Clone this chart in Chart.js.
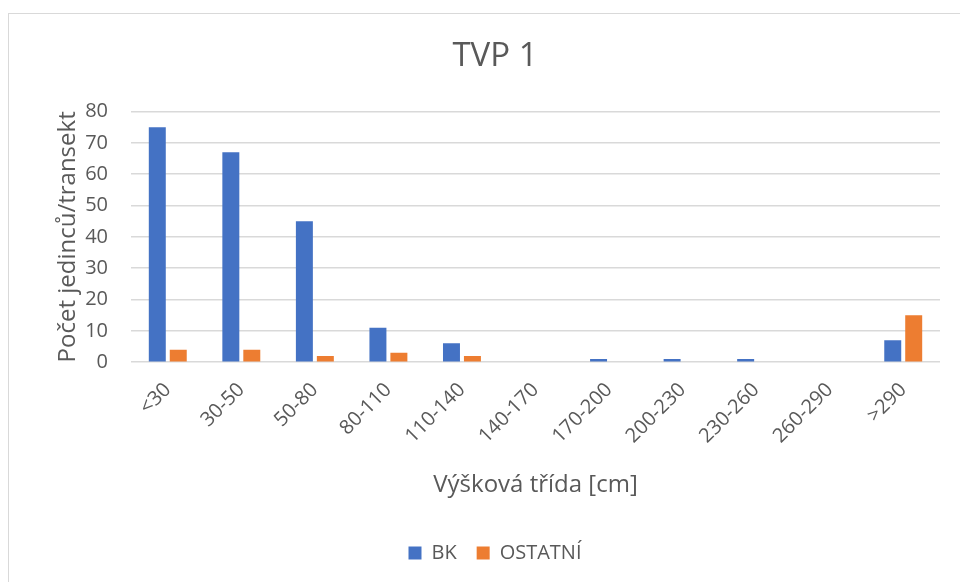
<!DOCTYPE html>
<html>
<head>
<meta charset="utf-8">
<script src="https://cdn.jsdelivr.net/npm/chart.js"></script>
<style>
  body { margin: 0; background: #fff; }
  #wrap { position: absolute; left: 0; top: 0; width: 960px; height: 582px; }
  #frame { position: absolute; left: 8px; top: 13px; width: 960px; height: 580px; border: 1px solid #d9d9d9; box-sizing: border-box; }
</style>
</head>
<body>
<div id="frame"></div>
<div id="wrap"><canvas id="graf"></canvas></div>
<script>
// kategorie výškových tříd
const tridy = ['<30', '30-50', '50-80', '80-110', '110-140', '140-170', '170-200', '200-230', '230-260', '260-290', '>290'];
const bk = [75, 67, 45, 11, 6, 0, 1, 1, 1, 0, 7];
const ostatni = [4, 4, 2, 3, 2, 0, 0, 0, 0, 0, 15];

const sedy = '#595959';
const pismo = "'Open Sans', 'Liberation Sans', sans-serif";

const ctx = document.getElementById('graf').getContext('2d');
new Chart(ctx, {
    type: 'bar',
    data: {
        labels: tridy,
        datasets: [
            { label: 'BK', data: bk, backgroundColor: '#4472C4' },
            { label: 'OSTATNÍ', data: ostatni, backgroundColor: '#ED7D31' }
        ]
    },
    options: {
        responsive: true,
        maintainAspectRatio: false,
        animation: false,
        categoryPercentage: 0.57,
        barPercentage: 0.81,
        layout: { padding: { top: 37, left: 50, right: 20, bottom: 9 } },
        plugins: {
            title: {
                display: true,
                text: 'TVP 1',
                color: sedy,
                font: { family: pismo, size: 33, weight: 'normal' },
                padding: { top: 0, bottom: 35 }
            },
            legend: {
                position: 'bottom',
                labels: {
                    color: sedy,
                    font: { family: pismo, size: 20 },
                    boxWidth: 13,
                    boxHeight: 13,
                    padding: 20
                }
            },
            tooltip: { enabled: false }
        },
        scales: {
            y: {
                min: 0,
                max: 80,
                ticks: { stepSize: 10, color: sedy, font: { family: pismo, size: 20 }, padding: 23 },
                grid: { color: '#d9d9d9', lineWidth: 1.5, drawTicks: false },
                border: { display: false },
                title: {
                    display: true,
                    text: 'Počet jedinců/transekt',
                    color: sedy,
                    font: { family: pismo, size: 24 },
                    padding: { bottom: 6 }
                },
                // pevná šířka osy, aby plocha začínala tam co v originále
                afterFit: function (scale) { scale.width = 81; }
            },
            x: {
                ticks: { color: sedy, font: { family: pismo, size: 20 }, minRotation: 45, maxRotation: 45, padding: 8 },
                grid: { display: false },
                border: { display: false },
                title: {
                    display: true,
                    text: 'Výšková třída [cm]',
                    color: sedy,
                    font: { family: pismo, size: 24 },
                    padding: { top: 15, bottom: 23 }
                },
                afterFit: function (scale) { scale.paddingLeft = 0; }
            }
        }
    }
});
</script>
</body>
</html>
